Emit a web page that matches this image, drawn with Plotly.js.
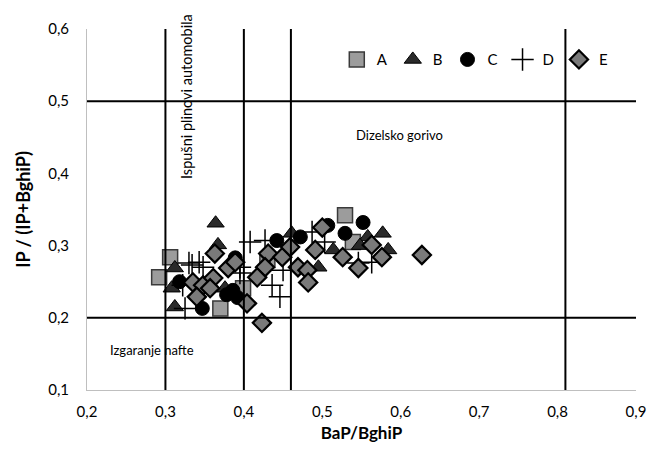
<!DOCTYPE html>
<html>
<head>
<meta charset="utf-8">
<script src="https://cdn.plot.ly/plotly-3.0.1.min.js"></script>
<style>html,body{margin:0;padding:0;background:#fff}#chart{width:650px;height:452px}</style>
</head>
<body>
<div id="chart"></div>
<script>
// Series A (squares)
const xA = [0.292, 0.306, 0.370, 0.529, 0.539, 0.399, 0.430];
const yA = [0.256, 0.284, 0.213, 0.342, 0.305, 0.241, 0.280];
// Series B (triangles)
const xB = [0.364, 0.312, 0.312, 0.461, 0.577, 0.558, 0.584, 0.514, 0.495, 0.367, 0.376, 0.308, 0.548];
const yB = [0.331, 0.269, 0.215, 0.317, 0.317, 0.312, 0.294, 0.294, 0.270, 0.301, 0.241, 0.241, 0.300];
// Series C (circles)
const xC = [0.347, 0.386, 0.392, 0.378, 0.442, 0.472, 0.552, 0.529, 0.507, 0.389, 0.318];
const yC = [0.213, 0.238, 0.228, 0.232, 0.307, 0.312, 0.332, 0.317, 0.328, 0.283, 0.250];
// Series D (crosses)
const xD = [0.334, 0.348, 0.395, 0.322, 0.325, 0.408, 0.427, 0.436, 0.446, 0.450, 0.487, 0.503, 0.563, 0.546, 0.330, 0.343, 0.395];
const yD = [0.273, 0.270, 0.262, 0.245, 0.213, 0.305, 0.307, 0.245, 0.229, 0.266, 0.319, 0.305, 0.277, 0.276, 0.276, 0.277, 0.270];
// Series E (diamonds)
const xE = [0.363, 0.380, 0.389, 0.335, 0.348, 0.361, 0.357, 0.340, 0.404, 0.423, 0.431, 0.427, 0.417, 0.449, 0.459, 0.469, 0.481, 0.482, 0.491, 0.500, 0.526, 0.546, 0.563, 0.576, 0.627];
const yE = [0.289, 0.269, 0.277, 0.249, 0.245, 0.255, 0.241, 0.229, 0.220, 0.193, 0.289, 0.270, 0.256, 0.284, 0.298, 0.270, 0.266, 0.249, 0.294, 0.325, 0.284, 0.269, 0.301, 0.284, 0.287];

const xTicks = [0.2, 0.3, 0.4, 0.5, 0.6, 0.7, 0.8, 0.9];
const xTickText = ['0,2', '0,3', '0,4', '0,5', '0,6', '0,7', '0,8', '0,9'];
const yTicks = [0.1, 0.2, 0.3, 0.4, 0.5, 0.6];
const yTickText = ['0,1', '0,2', '0,3', '0,4', '0,5', '0,6'];
const vLines = [0.3, 0.4, 0.46, 0.81];
const hLines = [0.2, 0.5];

const traces = [
  {x: xA, y: yA, name: 'A', mode: 'markers', type: 'scatter',
   marker: {symbol: 'square', size: 15, color: '#9c9c9c', line: {color: '#3a3a3a', width: 1.5}}},
  {x: xB, y: yB, name: 'B', mode: 'markers', type: 'scatter',
   marker: {symbol: 'triangle-up', size: 15, color: '#2a2a2a', line: {color: '#000', width: 1}}},
  {x: xC, y: yC, name: 'C', mode: 'markers', type: 'scatter',
   marker: {symbol: 'circle', size: 14, color: '#000', line: {color: '#000', width: 1}}},
  {x: xD, y: yD, name: 'D', mode: 'markers', type: 'scatter',
   marker: {symbol: 'cross-thin-open', size: 16, color: '#000', line: {color: '#000', width: 1.5}}},
  {x: xE, y: yE, name: 'E', mode: 'markers', type: 'scatter',
   marker: {symbol: 'diamond', size: 14, color: '#7a7a7a', line: {color: '#000', width: 2.2}}}
];

const shapes = [];
vLines.forEach(v => shapes.push({type: 'line', xref: 'x', yref: 'y', x0: v, x1: v, y0: 0.1, y1: 0.6, line: {color: '#000', width: 2}}));
hLines.forEach(h => shapes.push({type: 'line', xref: 'x', yref: 'y', x0: 0.2, x1: 0.9, y0: h, y1: h, line: {color: '#000', width: 2}}));

const fontFam = 'Lato, "Open Sans", sans-serif';
const layout = {
  width: 650, height: 452,
  margin: {l: 87, r: 14, t: 29, b: 62},
  paper_bgcolor: '#fff', plot_bgcolor: '#fff',
  font: {family: fontFam, size: 15, color: '#000'},
  showlegend: true,
  legend: {orientation: 'h', x: 0.455, y: 0.915, xanchor: 'left', yanchor: 'middle',
           font: {size: 15, color: '#000'}, itemwidth: 30, bgcolor: 'rgba(0,0,0,0)'},
  xaxis: {range: [0.2, 0.9], tickvals: xTicks, ticktext: xTickText, showgrid: false, zeroline: false,
          showline: true, linecolor: '#bfbfbf', linewidth: 1, ticks: '', ticklabelstandoff: 8,
          title: {text: '<b>BaP/BghiP</b>', font: {size: 17}, standoff: 8}},
  yaxis: {range: [0.1, 0.6], tickvals: yTicks, ticktext: yTickText, showgrid: false, zeroline: false,
          showline: true, linecolor: '#bfbfbf', linewidth: 1, ticks: '', ticklabelstandoff: 14,
          title: {text: '<b>IP / (IP+BghiP)</b>', font: {size: 18}, standoff: 12}},
  shapes: shapes,
  annotations: [
    {x: 0.599, y: 0.453, xref: 'x', yref: 'y', text: 'Dizelsko gorivo', showarrow: false, font: {size: 13}},
    {x: 0.283, y: 0.155, xref: 'x', yref: 'y', text: 'Izgaranje nafte', showarrow: false, font: {size: 13}},
    {x: 0.326, y: 0.507, xref: 'x', yref: 'y', text: 'Ispušni plinovi automobila', showarrow: false, textangle: -90, font: {size: 14.5}}
  ]
};

Plotly.newPlot('chart', traces, layout, {displayModeBar: false, staticPlot: true});
</script>
</body>
</html>
